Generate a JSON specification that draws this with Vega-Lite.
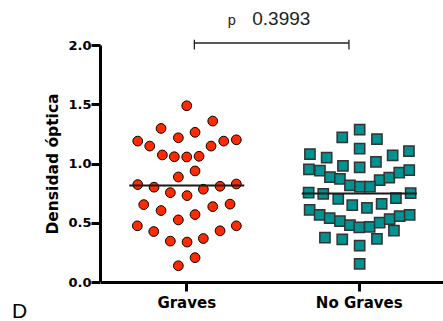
{
  "$schema": "https://vega.github.io/schema/vega-lite/v6.json",
  "width": 343,
  "height": 237,
  "autosize": {"type": "none"},
  "padding": {"left": 100, "top": 45, "right": 0, "bottom": 39},
  "background": "white",
  "config": {"view": {"stroke": null}},
  "title": {"text": "D", "orient": "bottom", "anchor": "start", "frame": "group", "dx": -88, "offset": -9, "font": "Liberation Sans", "fontSize": 21, "fontWeight": "normal", "color": "black", "baseline": "top"},
  "datasets": {
    "puntos": [
      {"grupo": "Graves", "densidad": 1.487, "spread": 0},
      {"grupo": "Graves", "densidad": 1.358, "spread": 26},
      {"grupo": "Graves", "densidad": 1.296, "spread": -25.7},
      {"grupo": "Graves", "densidad": 1.263, "spread": 8.3},
      {"grupo": "Graves", "densidad": 1.217, "spread": -8.4},
      {"grupo": "Graves", "densidad": 1.189, "spread": -49},
      {"grupo": "Graves", "densidad": 1.147, "spread": -37},
      {"grupo": "Graves", "densidad": 1.147, "spread": 24.3},
      {"grupo": "Graves", "densidad": 1.189, "spread": 37},
      {"grupo": "Graves", "densidad": 1.2, "spread": 49.6},
      {"grupo": "Graves", "densidad": 1.072, "spread": -24.4},
      {"grupo": "Graves", "densidad": 1.057, "spread": -12.4},
      {"grupo": "Graves", "densidad": 1.055, "spread": 0},
      {"grupo": "Graves", "densidad": 1.061, "spread": 12.3},
      {"grupo": "Graves", "densidad": 0.937, "spread": 8.3},
      {"grupo": "Graves", "densidad": 0.886, "spread": -8.4},
      {"grupo": "Graves", "densidad": 0.822, "spread": -49},
      {"grupo": "Graves", "densidad": 0.8, "spread": -32.7},
      {"grupo": "Graves", "densidad": 0.754, "spread": -16.4},
      {"grupo": "Graves", "densidad": 0.729, "spread": 0.3},
      {"grupo": "Graves", "densidad": 0.783, "spread": 16.6},
      {"grupo": "Graves", "densidad": 0.808, "spread": 33.3},
      {"grupo": "Graves", "densidad": 0.827, "spread": 49.6},
      {"grupo": "Graves", "densidad": 0.653, "spread": -43},
      {"grupo": "Graves", "densidad": 0.603, "spread": -25.7},
      {"grupo": "Graves", "densidad": 0.524, "spread": -8.4},
      {"grupo": "Graves", "densidad": 0.569, "spread": 8.3},
      {"grupo": "Graves", "densidad": 0.636, "spread": 26},
      {"grupo": "Graves", "densidad": 0.657, "spread": 43.3},
      {"grupo": "Graves", "densidad": 0.474, "spread": -49.4},
      {"grupo": "Graves", "densidad": 0.426, "spread": -33},
      {"grupo": "Graves", "densidad": 0.345, "spread": -16.4},
      {"grupo": "Graves", "densidad": 0.337, "spread": 0.3},
      {"grupo": "Graves", "densidad": 0.367, "spread": 16.6},
      {"grupo": "Graves", "densidad": 0.432, "spread": 33.3},
      {"grupo": "Graves", "densidad": 0.474, "spread": 49.6},
      {"grupo": "Graves", "densidad": 0.205, "spread": 8.3},
      {"grupo": "Graves", "densidad": 0.137, "spread": -8.4},
      {"grupo": "No Graves", "densidad": 1.285, "spread": 0.4},
      {"grupo": "No Graves", "densidad": 1.221, "spread": -17},
      {"grupo": "No Graves", "densidad": 1.206, "spread": 17.7},
      {"grupo": "No Graves", "densidad": 1.08, "spread": -49.3},
      {"grupo": "No Graves", "densidad": 1.049, "spread": -32.6},
      {"grupo": "No Graves", "densidad": 1.125, "spread": 0.4},
      {"grupo": "No Graves", "densidad": 1.069, "spread": 33.4},
      {"grupo": "No Graves", "densidad": 1.105, "spread": 49.7},
      {"grupo": "No Graves", "densidad": 1.013, "spread": 16.7},
      {"grupo": "No Graves", "densidad": 0.981, "spread": -16.3},
      {"grupo": "No Graves", "densidad": 0.968, "spread": 0.4},
      {"grupo": "No Graves", "densidad": 0.951, "spread": -50.3},
      {"grupo": "No Graves", "densidad": 0.939, "spread": -39.3},
      {"grupo": "No Graves", "densidad": 0.886, "spread": -29.3},
      {"grupo": "No Graves", "densidad": 0.87, "spread": -19.3},
      {"grupo": "No Graves", "densidad": 0.859, "spread": 20.4},
      {"grupo": "No Graves", "densidad": 0.88, "spread": 30},
      {"grupo": "No Graves", "densidad": 0.923, "spread": 40},
      {"grupo": "No Graves", "densidad": 0.945, "spread": 50},
      {"grupo": "No Graves", "densidad": 0.816, "spread": -9.3},
      {"grupo": "No Graves", "densidad": 0.805, "spread": 0.7},
      {"grupo": "No Graves", "densidad": 0.805, "spread": 10.7},
      {"grupo": "No Graves", "densidad": 0.754, "spread": -50.6},
      {"grupo": "No Graves", "densidad": 0.743, "spread": -36},
      {"grupo": "No Graves", "densidad": 0.701, "spread": -21},
      {"grupo": "No Graves", "densidad": 0.648, "spread": -7},
      {"grupo": "No Graves", "densidad": 0.625, "spread": 7.7},
      {"grupo": "No Graves", "densidad": 0.659, "spread": 22.4},
      {"grupo": "No Graves", "densidad": 0.707, "spread": 36.7},
      {"grupo": "No Graves", "densidad": 0.749, "spread": 51.4},
      {"grupo": "No Graves", "densidad": 0.609, "spread": -49.6},
      {"grupo": "No Graves", "densidad": 0.567, "spread": -39.6},
      {"grupo": "No Graves", "densidad": 0.539, "spread": -29.6},
      {"grupo": "No Graves", "densidad": 0.513, "spread": -19.3},
      {"grupo": "No Graves", "densidad": 0.48, "spread": -9.3},
      {"grupo": "No Graves", "densidad": 0.46, "spread": 0},
      {"grupo": "No Graves", "densidad": 0.465, "spread": 10.4},
      {"grupo": "No Graves", "densidad": 0.502, "spread": 20.4},
      {"grupo": "No Graves", "densidad": 0.53, "spread": 30.4},
      {"grupo": "No Graves", "densidad": 0.556, "spread": 40.4},
      {"grupo": "No Graves", "densidad": 0.567, "spread": 50.4},
      {"grupo": "No Graves", "densidad": 0.434, "spread": 34.7},
      {"grupo": "No Graves", "densidad": 0.375, "spread": -34.3},
      {"grupo": "No Graves", "densidad": 0.359, "spread": -17},
      {"grupo": "No Graves", "densidad": 0.306, "spread": 0.4},
      {"grupo": "No Graves", "densidad": 0.364, "spread": 17.7},
      {"grupo": "No Graves", "densidad": 0.154, "spread": 0.4}
    ]
  },
  "layer": [
    {
      "data": {"name": "puntos"},
      "transform": [{"filter": "datum.grupo === 'Graves'"}],
      "mark": {"type": "point", "shape": "circle", "filled": true, "fill": "#ff2a00", "stroke": "black", "strokeWidth": 1, "size": 95, "opacity": 1},
      "encoding": {
        "x": {
          "field": "grupo", "type": "nominal",
          "scale": {"domain": ["Graves", "No Graves"], "range": [0.5, 345.5], "paddingInner": 0, "paddingOuter": 0},
          "axis": {"title": null, "labelAngle": 0, "domainWidth": 3, "domainColor": "black", "tickWidth": 3, "tickColor": "black", "tickSize": 9, "labelFont": "DejaVu Sans", "labelFontWeight": "bold", "labelFontSize": 15, "labelColor": "black", "labelPadding": 4}
        },
        "y": {
          "field": "densidad", "type": "quantitative",
          "scale": {"domain": [0, 2], "nice": false, "zero": true},
          "axis": {"title": "Densidad óptica", "values": [0, 0.5, 1, 1.5, 2], "format": ".1f", "grid": false, "domainWidth": 3, "domainColor": "black", "tickWidth": 3, "tickColor": "black", "tickSize": 9, "labelFont": "DejaVu Sans", "labelFontWeight": "bold", "labelFontSize": 13, "labelColor": "black", "labelPadding": 0, "titleFont": "DejaVu Sans", "titleFontWeight": "bold", "titleFontSize": 15.5, "titleColor": "black", "titlePadding": 7}
        },
        "xOffset": {"field": "spread", "type": "quantitative", "scale": {"domain": [-86.25, 86.25]}}
      }
    },
    {
      "data": {"name": "puntos"},
      "transform": [{"filter": "datum.grupo === 'No Graves'"}],
      "mark": {"type": "point", "shape": "square", "filled": true, "fill": "#009191", "stroke": "#333333", "strokeWidth": 1.5, "size": 105, "opacity": 1},
      "encoding": {
        "x": {"field": "grupo", "type": "nominal"},
        "y": {"field": "densidad", "type": "quantitative"},
        "xOffset": {"field": "spread", "type": "quantitative"}
      }
    },
    {
      "data": {"name": "puntos"},
      "mark": {"type": "tick", "color": "#1a1a1a", "size": 115, "thickness": 2, "opacity": 1},
      "encoding": {
        "x": {"field": "grupo", "type": "nominal"},
        "y": {"aggregate": "mean", "field": "densidad", "type": "quantitative"}
      }
    },
    {
      "data": {"values": [{"grupo": "Graves", "hasta": "No Graves", "nivel": 2.017}]},
      "mark": {"type": "rule", "color": "#222222", "strokeWidth": 1.3, "xOffset": 7.6, "x2Offset": -10.3},
      "encoding": {
        "x": {"field": "grupo", "type": "nominal"},
        "x2": {"field": "hasta"},
        "y": {"field": "nivel", "type": "quantitative"}
      }
    },
    {
      "data": {"values": [{"grupo": "Graves", "bajo": 1.962, "alto": 2.045}]},
      "mark": {"type": "rule", "color": "#222222", "strokeWidth": 1.3, "xOffset": 7.6},
      "encoding": {
        "x": {"field": "grupo", "type": "nominal"},
        "y": {"field": "bajo", "type": "quantitative"},
        "y2": {"field": "alto"}
      }
    },
    {
      "data": {"values": [{"grupo": "No Graves", "bajo": 1.962, "alto": 2.045}]},
      "mark": {"type": "rule", "color": "#222222", "strokeWidth": 1.3, "xOffset": -10.3},
      "encoding": {
        "x": {"field": "grupo", "type": "nominal"},
        "y": {"field": "bajo", "type": "quantitative"},
        "y2": {"field": "alto"}
      }
    },
    {
      "data": {"values": [{"grupo": "Graves", "nivel": 2.166, "etiqueta": "p"}]},
      "mark": {"type": "text", "font": "Liberation Sans", "fontSize": 14.5, "color": "#222222", "align": "center", "baseline": "alphabetic", "dx": 45},
      "encoding": {
        "x": {"field": "grupo", "type": "nominal"},
        "y": {"field": "nivel", "type": "quantitative"},
        "text": {"field": "etiqueta"}
      }
    },
    {
      "data": {"values": [{"grupo": "Graves", "nivel": 2.166, "etiqueta": "0.3993"}]},
      "mark": {"type": "text", "font": "Liberation Sans", "fontSize": 19, "color": "#222222", "align": "left", "baseline": "alphabetic", "dx": 65.5},
      "encoding": {
        "x": {"field": "grupo", "type": "nominal"},
        "y": {"field": "nivel", "type": "quantitative"},
        "text": {"field": "etiqueta"}
      }
    }
  ]
}
